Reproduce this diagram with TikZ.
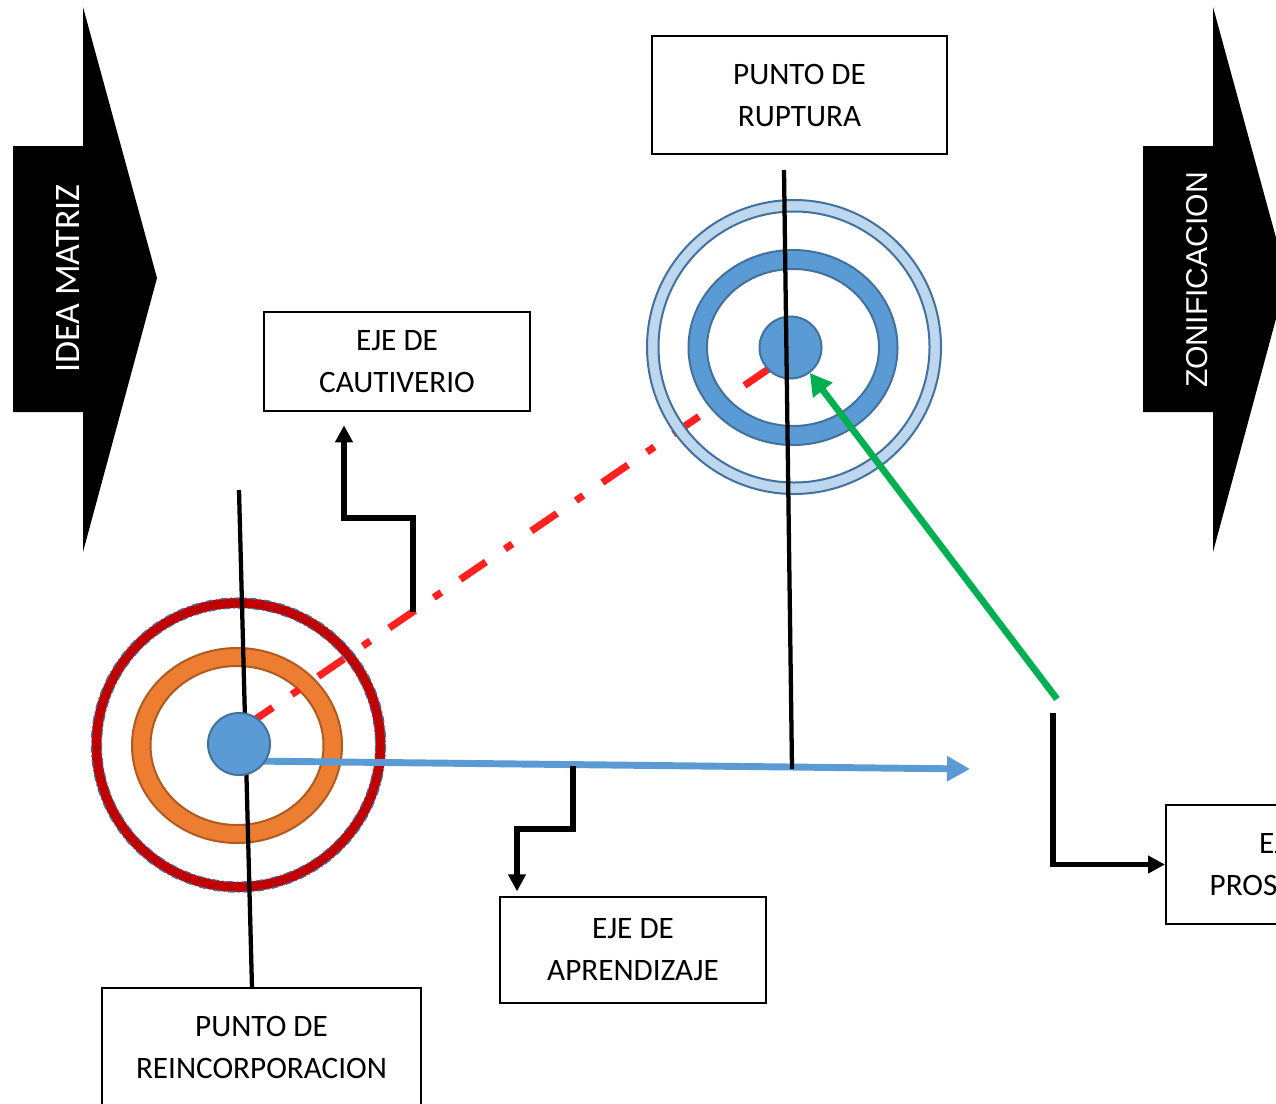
\documentclass[tikz,border=0pt]{standalone}
\usepackage{fontspec}
\setmainfont{Carlito}
\newfontfamily\arialfont{Liberation Sans}
\usetikzlibrary{arrows.meta}
\definecolor{blueF}{HTML}{5B9BD5}
\definecolor{blueD}{HTML}{41719C}
\definecolor{lightB}{HTML}{BDD7EE}
\definecolor{orangeF}{HTML}{ED7D31}
\definecolor{orangeD}{HTML}{AE5A21}
\definecolor{darkRed}{HTML}{C00000}
\definecolor{dashRed}{HTML}{FF2020}
\definecolor{greenA}{HTML}{00B050}
\begin{document}
\begin{tikzpicture}[x=0.75pt,y=-0.75pt,
  box/.style={draw=black, line width=1.5pt, fill=white, align=center, inner sep=0pt,
    font=\fontsize{23.4pt}{31.5pt}\selectfont},
  hub/.style={circle, draw=blueD, fill=blueF, line width=1.5pt, minimum size=46.5pt, inner sep=0pt},
  axisline/.style={draw=black, line width=3.2pt},
  elbow/.style={draw=black, line width=4.1pt, -{Triangle[length=12.75pt,width=12.75pt]}},
  bluearrow/.style={draw=blueF, line width=5.2pt, -{Triangle[length=17.25pt,width=18pt]}},
  greenarrow/.style={draw=greenA, line width=5pt, -{Triangle[length=16.2pt,width=17.6pt]}},
  reddash/.style={draw=dashRed, line width=5.4pt, dash pattern=on 23.25pt off 17.25pt on 6.75pt off 17.25pt},
]
\useasboundingbox (0,0) rectangle (1276,1103);
\clip (0,0) rectangle (1276,1103);
\fill[white] (0,0) rectangle (1276,1103);

% big block arrows
\fill[black] (13,146) -- (83,146) -- (83,7) -- (157,278) -- (83,552) -- (83,412) -- (13,412) -- cycle;
\node[rotate=90, text=white, inner sep=0pt, font=\fontsize{26.9pt}{32pt}\selectfont] (idea) at (67.5,278.5) {IDEA MATRIZ};
\fill[black] (1143,146) -- (1213,146) -- (1213,7) -- (1287,278) -- (1213,552) -- (1213,412) -- (1143,412) -- cycle;
\node[rotate=90, text=white, inner sep=0pt, font=\arialfont\fontsize{22.6pt}{27pt}\selectfont] (zon) at (1197.5,280) {ZONIFICACION};

% boxes
\node[box, minimum width=221.25pt, minimum height=88.5pt] (ruptura) at (799.5,95) {PUNTO DE\\RUPTURA};
\node[box, minimum width=199.5pt, minimum height=74.25pt] (caut) at (397,361.5) {EJE DE\\CAUTIVERIO};
\node[box, minimum width=199.5pt, minimum height=79.5pt] (apr) at (633,950) {EJE DE\\APRENDIZAJE};
\node[box, minimum width=239.25pt, minimum height=88.5pt] (reinc) at (261.5,1047) {PUNTO DE\\REINCORPORACION};
\node[box, minimum width=201pt, minimum height=89.25pt] (prosp) at (1300,864.5) {EJE DE\\PROSPECCION};

% left rings
\draw[draw=darkRed, line width=7.5pt] (238.5,745) circle (142);
\draw[draw=blueD, line width=1.1pt, dash pattern=on 5pt off 2.5pt on 1pt off 2.5pt] (238.5,745) circle (147);
\draw[draw=blueD, line width=0.9pt, dash pattern=on 5pt off 2.5pt on 1pt off 2.5pt] (238.5,745) circle (137);
\fill[orangeF, even odd rule] (237,745.5) ellipse [x radius=105, y radius=97.5] (237,745.5) ellipse [x radius=86.5, y radius=79.5];
\draw[draw=orangeD, line width=1.5pt] (237,745.5) ellipse [x radius=105, y radius=97.5];
\draw[draw=orangeD, line width=1.5pt] (237,745.5) ellipse [x radius=86.5, y radius=79.5];

% left axis line
\coordinate (l1top) at (239,490);
\coordinate (l1bot) at (252,988);
\draw[axisline] (l1top) -- (l1bot);

% red dash-dot line
\coordinate (rdR) at (770,368);
\coordinate (rdL) at (250,723);
\draw[reddash] (rdR) -- (rdL);

% right rings
\fill[lightB, even odd rule] (794,347) circle (147) (794,347) circle (135.5);
\draw[draw=blueD, line width=1.5pt] (794,347) circle (147);
\draw[draw=blueD, line width=1.5pt] (794,347) circle (135.5);
\fill[blueF, even odd rule] (793,347.5) ellipse [x radius=104.5, y radius=97.5] (793,347.5) ellipse [x radius=86, y radius=78.5];
\draw[draw=blueD, line width=1.5pt] (793,347.5) ellipse [x radius=104.5, y radius=97.5];
\draw[draw=blueD, line width=1.5pt] (793,347.5) ellipse [x radius=86, y radius=78.5];

% blue arrow
\coordinate (bstart) at (250,761);
\coordinate (bend) at (970,769);
\draw[bluearrow] (bstart) -- (bend);

% hubs
\node[hub] (c1) at (239,744) {};
\node[hub] (c2) at (790.5,347.5) {};

% right axis line
\coordinate (l2top) at (784,170);
\coordinate (l2bot) at (792,769);
\draw[axisline] (l2top) -- (l2bot);

% green arrow
\coordinate (gstart) at (1057,699);
\draw[greenarrow] (gstart) -- (c2);

% elbow arrows
\coordinate (e1s) at (413,612);
\coordinate (e1m) at (344,518);
\draw[elbow, shorten >=10pt] (e1s) |- (e1m) -- (e1m |- caut.south);
\coordinate (e2s) at (573,766);
\coordinate (e2m) at (517,829);
\draw[elbow, shorten >=3.5pt] (e2s) |- (e2m) -- (e2m |- apr.north);
\coordinate (e3s) at (1053,713);
\draw[elbow] (e3s) |- (prosp.west);
\end{tikzpicture}
\end{document}
